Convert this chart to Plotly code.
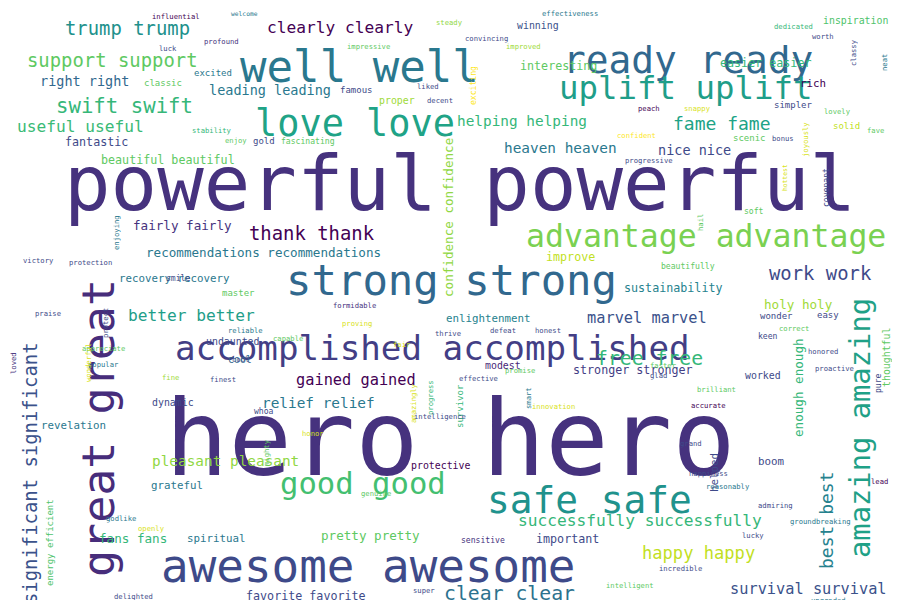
import plotly.graph_objects as go

# word cloud: each word with its place, size, colour and rotation
words = ["powerful powerful", "hero hero", "awesome awesome", "accomplished accomplished",
         "strong strong", "advantage advantage", "well well", "love love", "ready ready",
         "uplift uplift", "safe safe", "good good", "great great", "amazing amazing",
         "significant significant", "best best", "enough enough", "confidence confidence",
         "trump trump", "support support", "right right", "swift swift", "useful useful",
         "fantastic", "beautiful beautiful", "leading leading", "clearly clearly",
         "interesting", "inspiration", "easier easier", "helping helping", "fame fame",
         "heaven heaven", "nice nice", "thank thank", "fairly fairly",
         "recommendations recommendations", "improve", "work work", "sustainability",
         "holy holy", "better better", "recovery recovery", "enlightenment", "marvel marvel",
         "undaunted", "modest", "free free", "cool", "gained gained", "relief relief",
         "stronger stronger", "worked", "dynamic", "revelation", "protective", "boom",
         "pleasant pleasant", "grateful", "spiritual", "fans fans", "pretty pretty",
         "important", "successfully successfully", "happy happy", "survival survival",
         "clear clear", "favorite favorite", "energy efficient", "survivor", "helped",
         "thoughtful", "joyously", "covenant", "hottest", "neat", "classy", "exciting",
         "mighty", "amazingly", "progress", "protect", "loved", "enjoying", "smart", "pure",
         "classic", "excited", "influential", "luck", "profound", "welcome", "impressive",
         "famous", "proper", "liked", "decent", "steady", "convincing", "winning",
         "effectiveness", "improved", "dedicated", "worth", "rich", "lovely", "solid", "fave",
         "simpler", "peach", "snappy", "confident", "scenic", "bonus", "progressive", "gold",
         "fascinating", "enjoy", "stability", "soft", "victory", "protection", "smile",
         "master", "formidable", "beautifully", "reliable", "proving", "fair", "defeat",
         "honest", "wonder", "easy", "correct", "keen", "praise", "appreciate", "popular",
         "capable", "honored", "fine", "finest", "effective", "glad", "faster", "brilliant",
         "proactive", "accurate", "promise", "whoa", "innovation", "intelligence", "honor",
         "grand", "genuine", "reasonably", "happiness", "admiring", "groundbreaking", "lead",
         "godlike", "openly", "sensitive", "lucky", "incredible", "intelligent", "super",
         "delighted", "upgraded", "hail", "wonderful", "thrive", "cool"]
x = [452, 442, 360, 424, 443, 698, 351, 347, 680, 678, 581, 355, 90, 852, 22, 818, 790, 440,
     119, 104, 76, 116, 72, 88, 160, 262, 332, 550, 847, 757, 514, 714, 552, 686, 304, 174,
     255, 562, 812, 665, 790, 183, 166, 480, 639, 225, 495, 641, 232, 348, 310, 625, 755,
     165, 65, 433, 763, 217, 169, 208, 125, 362, 559, 632, 690, 800, 501, 298, 42, 452, 706,
     878, 797, 818, 776, 876, 845, 465, 258, 405, 422, 97, 5, 108, 520, 870, 155, 205, 168,
     160, 213, 236, 360, 348, 389, 420, 432, 441, 478, 530, 562, 515, 785, 815, 805, 829,
     838, 867, 785, 641, 689, 628, 741, 775, 641, 256, 300, 228, 204, 746, 30, 82, 170, 230,
     346, 680, 237, 349, 394, 495, 540, 768, 820, 786, 760, 40, 95, 95, 280, 815, 162, 215,
     470, 650, 655, 708, 826, 700, 512, 256, 545, 432, 305, 683, 368, 720, 700, 767, 812, 871,
     113, 143, 475, 745, 672, 622, 416, 125, 820, 692, 80, 440, 232]
y = [175, 430, 558, 340, 272, 228, 58, 115, 52, 80, 492, 475, 420, 420, 465, 512, 380, 210,
     20, 52, 73, 98, 118, 134, 152, 82, 19, 58, 12, 55, 113, 115, 140, 142, 225, 217, 244,
     249, 265, 280, 296, 307, 270, 310, 310, 333, 357, 350, 351, 372, 395, 362, 367, 394,
     417, 457, 453, 453, 477, 530, 530, 527, 531, 512, 545, 581, 585, 588, 535, 398, 465, 350,
     132, 180, 170, 55, 45, 78, 445, 395, 390, 315, 355, 225, 390, 375, 75, 65, 8, 40, 33, 5,
     38, 82, 92, 78, 92, 14, 30, 17, 5, 38, 18, 28, 75, 103, 118, 122, 97, 100, 100, 127, 130,
     130, 152, 133, 133, 132, 122, 203, 252, 254, 270, 285, 297, 258, 322, 315, 336, 322, 322,
     308, 307, 320, 328, 305, 340, 356, 330, 343, 369, 371, 370, 367, 357, 381, 360, 397, 362,
     403, 398, 408, 425, 435, 485, 478, 465, 497, 513, 473, 510, 520, 532, 527, 560, 577, 582,
     588, 592, 215, 355, 325, 351]
size = [86, 117, 51, 38, 47, 35, 49, 41, 42, 36, 42, 34, 50, 32, 21, 20, 14, 14, 21, 21, 15,
        23, 18, 13, 13, 15, 18, 13, 11, 13, 16, 20, 16, 15, 21, 14, 14, 13, 21, 13, 14, 18,
        12, 12, 17, 11, 11, 22, 11, 17, 16, 13, 11, 11, 12, 11, 12, 16, 12, 12, 14, 14, 13,
        18, 19, 17, 22, 13, 10, 10, 12, 11, 8, 9, 7, 8, 8, 9, 8, 8, 8, 8, 8, 8, 8, 9, 10, 10,
        8, 8, 8, 7, 8, 10, 11, 8, 8, 8, 8, 11, 8, 8, 8, 8, 12, 8, 10, 8, 10, 8, 8, 8, 10, 8,
        8, 10, 9, 8, 8, 9, 8, 8, 9, 10, 8, 9, 8, 8, 8, 8, 8, 10, 10, 8, 9, 8, 8, 8, 8, 8, 8,
        8, 8, 8, 8, 8, 8, 8, 8, 9, 8, 8, 8, 8, 8, 8, 8, 8, 8, 8, 8, 8, 9, 8, 8, 8, 8, 8, 8, 8,
        8, 8, 8, 8, 8]
color = ["#46327e", "#46327e", "#3e4a89", "#433e85", "#31688e", "#7ad151", "#2a788e",
         "#20a386", "#31688e", "#1f9e89", "#20928c", "#44bf70", "#472d7b", "#1fa187",
         "#3b528b", "#26828e", "#35b779", "#90d743", "#21918c", "#5ec962", "#31688e",
         "#35b779", "#3aba76", "#3e4a89", "#5ec962", "#2a788e", "#440154", "#5ec962",
         "#4ec36b", "#35b779", "#35b779", "#20a386", "#2a788e", "#3e4a89", "#440154",
         "#46327e", "#2a788e", "#c2df23", "#3e4a89", "#26828e", "#a0da39", "#1f9e89",
         "#2a788e", "#26828e", "#3b528b", "#3e4a89", "#482878", "#35b779", "#31688e",
         "#440154", "#2a788e", "#433e85", "#3e4a89", "#3e4a89", "#2a788e", "#440154",
         "#3e4a89", "#90d743", "#2a788e", "#2a788e", "#35b779", "#5ec962", "#3e4a89",
         "#35b779", "#c2df23", "#3b528b", "#2c728e", "#3e4a89", "#4ec36b", "#35b779",
         "#3e4a89", "#5ec962", "#d8e219", "#3e4a89", "#d8e219", "#2a788e", "#3e4a89",
         "#fde725", "#5ec962", "#d8e219", "#35b779", "#3e4a89", "#46327e", "#2a788e",
         "#2a788e", "#3e4a89", "#5ec962", "#2a788e", "#440154", "#3e4a89", "#46327e",
         "#2a788e", "#5ec962", "#3e4a89", "#a0da39", "#3e4a89", "#3e4a89", "#90d743",
         "#3e4a89", "#3b528b", "#2a788e", "#a0da39", "#35b779", "#3e4a89", "#440154",
         "#5ec962", "#c2df23", "#5ec962", "#3e4a89", "#440154", "#d8e219", "#fde725",
         "#5ec962", "#3e4a89", "#3e4a89", "#3e4a89", "#5ec962", "#5ec962", "#35b779",
         "#5ec962", "#3e4a89", "#3e4a89", "#3e4a89", "#5ec962", "#46327e", "#5ec962",
         "#2a788e", "#d8e219", "#d8e219", "#3e4a89", "#3e4a89", "#3e4a89", "#3e4a89",
         "#5ec962", "#3e4a89", "#3e4a89", "#5ec962", "#2a788e", "#5ec962", "#3e4a89",
         "#a0da39", "#3e4a89", "#3e4a89", "#3e4a89", "#5ec962", "#5ec962", "#3e4a89",
         "#440154", "#5ec962", "#3e4a89", "#d8e219", "#3e4a89", "#d8e219", "#3e4a89",
         "#5ec962", "#2a788e", "#3e4a89", "#3e4a89", "#2a788e", "#440154", "#2a788e",
         "#d8e219", "#46327e", "#3e4a89", "#3e4a89", "#5ec962", "#3e4a89", "#3e4a89",
         "#2a788e", "#5ec962", "#d8e219", "#3e4a89", "#3e4a89", "#5ec962", "#d8e219",
         "#31688e"]
vertical = {"great great", "amazing amazing", "significant significant", "best best",
            "enough enough", "confidence confidence", "energy efficient", "survivor",
            "helped", "thoughtful", "joyously", "covenant", "hottest", "neat", "classy",
            "exciting", "mighty", "amazingly", "progress", "protect", "loved", "enjoying",
            "smart", "pure", "hail", "wonderful"}

n = min(len(words), len(x), len(y), len(size), len(color))
fig = go.Figure()
fig.add_trace(go.Scatter(x=[0, 900], y=[0, 600], mode="markers", marker=dict(opacity=0),
                         hoverinfo="skip"))
for i in range(n):
    fig.add_annotation(x=x[i], y=y[i], text=words[i], showarrow=False,
                       xanchor="center", yanchor="middle",
                       textangle=-90 if words[i] in vertical else 0,
                       font=dict(family="DejaVu Sans Mono", size=round(size[i] * 0.9, 1),
                                 color=color[i]))

fig.update_xaxes(range=[0, 900], visible=False)
fig.update_yaxes(range=[600, 0], visible=False)
fig.update_layout(width=900, height=600, margin=dict(l=0, r=0, t=0, b=0),
                  plot_bgcolor="white", paper_bgcolor="white", showlegend=False)
fig.write_html("out.html")
